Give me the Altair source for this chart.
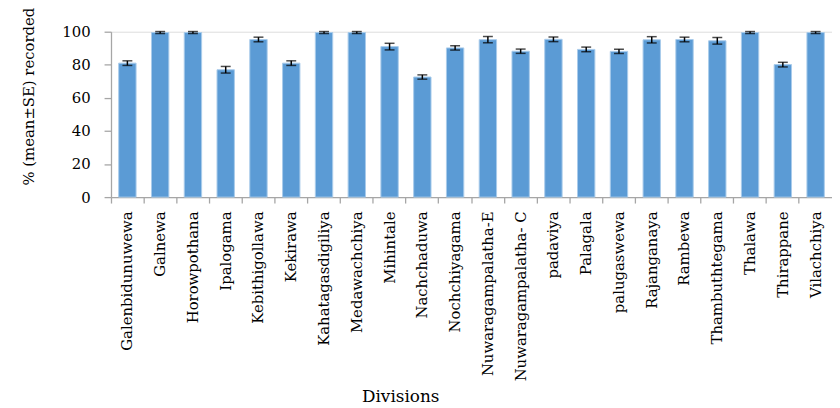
import altair as alt
import pandas as pd

divisions = ["Galenbidunuwewa", "Galnewa", "Horowpothana", "Ipalogama", "Kebithigollawa",
             "Kekirawa", "Kahatagasdigiliya", "Medawachchiya", "Mihintale", "Nachchaduwa",
             "Nochchiyagama", "Nuwaragampalatha-E", "Nuwaragampalatha- C", "padaviya",
             "Palagala", "palugaswewa", "Rajanganaya", "Rambewa", "Thambuthtegama",
             "Thalawa", "Thirappane", "Vilachchiya"]
means = [81, 99.5, 99.5, 77, 95.3, 81, 99.5, 99.5, 91, 72.6, 90.2, 95.2, 88.2, 95.4,
         89.3, 88.1, 95.1, 95.3, 94.5, 99.5, 80.1, 99.5]
se = [1.4, 0.6, 0.6, 2.0, 1.4, 1.4, 0.6, 0.6, 2.0, 1.3, 1.3, 1.9, 1.3, 1.4,
      1.4, 1.3, 1.9, 1.4, 2.0, 0.6, 1.4, 0.6]

df = pd.DataFrame({"division": divisions, "mean": means, "se": se})
df["lo"] = df["mean"] - df["se"]
df["hi"] = df["mean"] + df["se"]

FONT = "DejaVu Serif"

x_axis = alt.Axis(title="Divisions", labelAngle=270, labelAlign="right",
                  labelBaseline="middle", labelFontSize=15,
                  labelPadding=8, labelOverlap=False, labelLimit=300,
                  bandPosition=0, tickSize=6,
                  titleFontSize=17, titleX=292, titleY=193,
                  titleAnchor="middle", titleBaseline="top")
y_axis = alt.Axis(title="% (mean±SE) recorded", values=[0, 20, 40, 60, 80, 100],
                  grid=False, labelFontSize=15, labelOverlap=False,
                  labelPadding=14, tickSize=7,
                  titleFontSize=15, titleX=-75, titleY=65,
                  titleAnchor="middle")
x_scale = alt.Scale(paddingInner=0, paddingOuter=0)
y_scale = alt.Scale(domain=[0, 100], nice=False)

def X():
    return alt.X("division:N", sort=divisions, scale=x_scale, axis=x_axis)

def Y(field):
    return alt.Y(field, scale=y_scale, axis=y_axis)

base = alt.Chart(df)

bars = base.mark_bar(width=alt.RelativeBandSize(0.53), color="#5B9BD5",
                     stroke="#A9CBEB", strokeWidth=1).encode(x=X(), y=Y("mean:Q"))
rule = base.mark_rule(color="#000", strokeWidth=1.5).encode(
    x=X(), y=Y("lo:Q"), y2="hi:Q")
cap_hi = base.mark_tick(color="#000", thickness=1.5, size=10, orient="horizontal").encode(
    x=X(), y=Y("hi:Q"))
cap_lo = base.mark_tick(color="#000", thickness=1.5, size=10, orient="horizontal").encode(
    x=X(), y=Y("lo:Q"))

chart = alt.layer(bars, rule, cap_hi, cap_lo).properties(
    width=728, height=167,
    autosize=alt.AutoSizeParams(type="none"),
    padding={"left": 104, "top": 22, "right": 0, "bottom": 211},
).configure_view(strokeWidth=0).configure(background="white").configure_axis(
    labelFont=FONT, titleFont=FONT, labelColor="#000", titleColor="#000",
    titleFontWeight="normal", tickColor="#A6A6A6", domainColor="#A6A6A6",
    domainWidth=1.3, tickWidth=1.3, labelOverlap=False)

chart.save("out.html", embed_options={"renderer": "svg", "actions": False})
